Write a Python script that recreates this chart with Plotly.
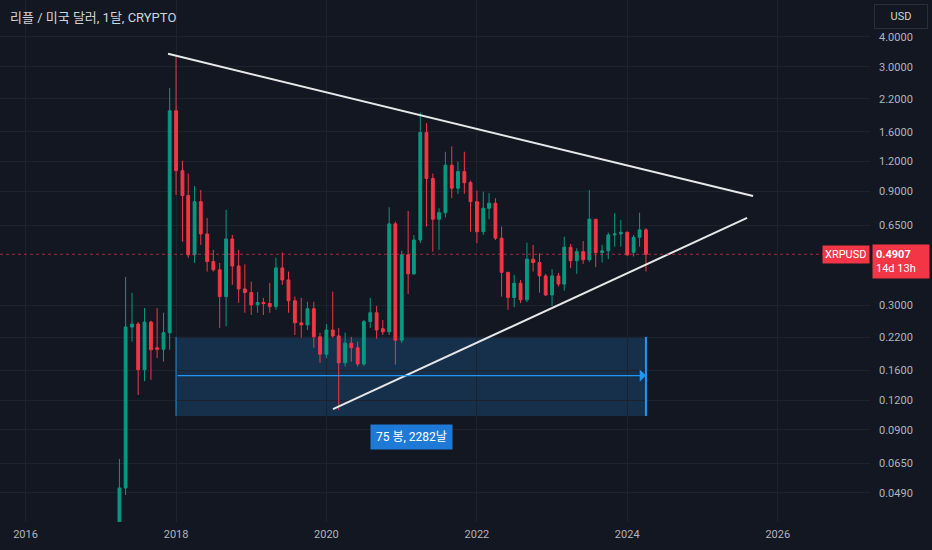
import numpy as np
import pandas as pd
import plotly.graph_objects as go

# 월봉 OHLC (2017-04 ~ 2024-04), 차트에서 눈으로 읽은 값
first_month = "2017-04-01"
open_ = [0.028, 0.0514, 0.243, 0.250, 0.161, 0.255, 0.199, 0.196, 0.230,
         1.96, 1.10, 0.865, 0.488, 0.815, 0.597, 0.457, 0.422, 0.326, 0.569, 0.438, 0.351,
         0.339, 0.301, 0.308, 0.305, 0.296, 0.430, 0.383, 0.313, 0.253, 0.248, 0.290, 0.221,
         0.187, 0.236, 0.223, 0.172, 0.208, 0.199, 0.170, 0.256, 0.279, 0.239, 0.232, 0.658,
         0.214, 0.488, 0.406, 0.563, 1.59, 1.02, 0.688, 0.733, 1.16, 0.929, 1.09, 0.98,
         0.815, 0.61, 0.765, 0.803, 0.573, 0.412, 0.323, 0.371, 0.316, 0.468, 0.453, 0.398,
         0.331, 0.398, 0.368, 0.525, 0.461, 0.503, 0.465, 0.688, 0.499, 0.507, 0.591, 0.597,
         0.607, 0.50, 0.578, 0.621]
high = [0.068, 0.394, 0.338, 0.255, 0.292, 0.258, 0.292, 0.279, 2.44,
        3.29, 1.21, 1.07, 0.949, 0.912, 0.697, 0.512, 0.451, 0.753, 0.591, 0.512, 0.445,
        0.377, 0.341, 0.322, 0.372, 0.474, 0.499, 0.415, 0.326, 0.322, 0.310, 0.310, 0.230,
        0.250, 0.342, 0.241, 0.230, 0.221, 0.211, 0.260, 0.322, 0.298, 0.260, 0.773, 0.673,
        0.508, 0.745, 0.591, 1.93, 1.74, 1.07, 0.765, 1.32, 1.39, 1.20, 1.32, 1.00,
        0.907, 0.898, 0.885, 0.843, 0.641, 0.414, 0.402, 0.383, 0.549, 0.537, 0.495, 0.406,
        0.425, 0.41, 0.582, 0.542, 0.52, 0.558, 0.912, 0.69, 0.537, 0.605, 0.729, 0.684,
        0.61, 0.591, 0.733, 0.631]
low = [0.026, 0.048, 0.211, 0.126, 0.144, 0.146, 0.180, 0.174, 0.195,
       0.87, 0.554, 0.474, 0.451, 0.537, 0.415, 0.415, 0.241, 0.245, 0.365, 0.307, 0.279,
       0.273, 0.279, 0.273, 0.279, 0.287, 0.365, 0.279, 0.225, 0.219, 0.236, 0.199, 0.172,
       0.180, 0.219, 0.109, 0.166, 0.174, 0.166, 0.167, 0.241, 0.217, 0.225, 0.225, 0.169,
       0.208, 0.334, 0.402, 0.547, 0.641, 0.503, 0.512, 0.70, 0.843, 0.879, 0.88, 0.61,
       0.546, 0.591, 0.688, 0.563, 0.326, 0.287, 0.294, 0.306, 0.309, 0.415, 0.339, 0.328,
       0.298, 0.359, 0.345, 0.429, 0.406, 0.447, 0.457, 0.433, 0.453, 0.468, 0.528, 0.528,
       0.482, 0.48, 0.528, 0.415]
close = [0.0514, 0.243, 0.250, 0.161, 0.255, 0.195, 0.196, 0.230, 1.96,
         1.10, 0.865, 0.488, 0.815, 0.597, 0.457, 0.422, 0.326, 0.569, 0.438, 0.351, 0.339,
         0.301, 0.308, 0.305, 0.296, 0.430, 0.383, 0.313, 0.253, 0.248, 0.290, 0.221, 0.187,
         0.236, 0.223, 0.172, 0.208, 0.199, 0.170, 0.256, 0.279, 0.236, 0.232, 0.658, 0.214,
         0.488, 0.406, 0.563, 1.59, 1.02, 0.688, 0.733, 1.16, 0.929, 1.09, 0.98, 0.815,
         0.61, 0.765, 0.803, 0.573, 0.412, 0.323, 0.371, 0.316, 0.468, 0.453, 0.398, 0.331,
         0.398, 0.368, 0.525, 0.461, 0.503, 0.465, 0.688, 0.499, 0.507, 0.591, 0.597, 0.607,
         0.488, 0.578, 0.621, 0.4907]

months = pd.date_range(first_month, periods=len(close), freq="MS")

# 그려 놓은 추세선, 기간 범위
upper_dates = ["2017-11-23", "2025-09-03"]
upper_prices = [3.40, 0.861]
lower_dates = ["2020-02-02", "2025-08-05"]
lower_prices = [0.110, 0.697]
range_dates = ["2018-01-01", "2024-04-01"]
range_low, range_high, range_mid = 0.103, 0.221, 0.152
range_label = "75 봉, 2282날"
label_date, label_price = "2021-02-15", 0.084
last_price = 0.4907
countdown = "14d 13h"

# 축 눈금
price_ticks = [4.0, 3.0, 2.2, 1.6, 1.2, 0.9, 0.65, 0.3, 0.22, 0.16, 0.12, 0.09, 0.065, 0.049]
year_ticks = ["2016-01-01", "2018-01-01", "2020-01-01", "2022-01-01", "2024-01-01", "2026-01-01"]
year_labels = ["2016", "2018", "2020", "2022", "2024", "2026"]

BG = "#131722"
GRID = "#1e222d"
UP = "#089981"
DOWN = "#f23645"
TXT = "#b2b5be"
BLUE = "#2196f3"
FONT = "Roboto, 'Noto Sans CJK KR', sans-serif"

fig = go.Figure()

fig.add_trace(go.Candlestick(
    x=months, open=open_, high=high, low=low, close=close,
    increasing=dict(line=dict(color=UP, width=1), fillcolor=UP),
    decreasing=dict(line=dict(color=DOWN, width=1), fillcolor=DOWN),
    hoverinfo="skip", showlegend=False,
))

for xs, ys in [(upper_dates, upper_prices), (lower_dates, lower_prices)]:
    fig.add_trace(go.Scatter(
        x=xs, y=ys, mode="lines",
        line=dict(color="#e8e8e8", width=2),
        hoverinfo="skip", showlegend=False,
    ))

# 기간 범위 박스
fig.add_shape(type="rect", xref="x", yref="y",
              x0=range_dates[0], x1=range_dates[1], y0=range_low, y1=range_high,
              fillcolor="rgba(33,150,243,0.2)", line=dict(width=0), layer="below")
fig.add_shape(type="line", xref="x", yref="y",
              x0=range_dates[0], x1=range_dates[0], y0=range_low, y1=range_high,
              line=dict(color=BLUE, width=1))
fig.add_shape(type="line", xref="x", yref="y",
              x0=range_dates[1], x1=range_dates[1], y0=range_low, y1=range_high,
              line=dict(color=BLUE, width=2))
fig.add_annotation(x=range_dates[1], y=np.log10(range_mid), ax=range_dates[0], ay=np.log10(range_mid),
                   xref="x", yref="y", axref="x", ayref="y", text="", showarrow=True,
                   arrowhead=1, arrowsize=1.6, arrowwidth=1.3, arrowcolor=BLUE, standoff=0)
fig.add_annotation(x=label_date, y=np.log10(label_price), xref="x", yref="y",
                   text=range_label, showarrow=False, bgcolor="#1e7ad6", borderpad=5,
                   font=dict(color="white", size=12, family=FONT))

# 현재가 점선과 라벨
fig.add_shape(type="line", xref="paper", yref="y", x0=0, x1=1, y0=last_price, y1=last_price,
              line=dict(color="rgba(242,54,69,0.65)", width=1, dash="dot"))
fig.add_annotation(x=1.0, y=np.log10(last_price), xref="paper", yref="y",
                   xanchor="right", yanchor="middle", text="XRPUSD", showarrow=False,
                   bgcolor=DOWN, borderpad=2, font=dict(color="white", size=11, family=FONT))
fig.add_annotation(x=1.0 + 2 / 870, y=np.log10(last_price), xref="paper", yref="y",
                   xanchor="left", yanchor="middle", yshift=-7, align="left", width=50,
                   text=f"<b>{last_price:.4f}</b><br>{countdown}", showarrow=False,
                   bgcolor=DOWN, borderpad=3, font=dict(color="white", size=11, family=FONT))

# 제목, 통화 버튼
fig.add_annotation(x=8 / 870, y=1 - 18 / 522, xref="paper", yref="paper",
                   xanchor="left", yanchor="middle", showarrow=False,
                   text="리플 / 미국 달러, 1달, CRYPTO",
                   font=dict(color="#d1d4dc", size=13, family=FONT))
fig.add_annotation(x=901 / 870, y=1 - 16 / 522, xref="paper", yref="paper",
                   xanchor="center", yanchor="middle", showarrow=False, text="USD",
                   width=42, borderpad=5, bordercolor="#2a2e39", borderwidth=1, bgcolor=BG,
                   font=dict(color="#d1d4dc", size=11, family=FONT))

fig.update_layout(
    width=932, height=550,
    margin=dict(l=0, r=62, t=0, b=28),
    plot_bgcolor=BG, paper_bgcolor=BG,
    showlegend=False, hovermode=False,
    font=dict(family=FONT, color=TXT, size=11),
    xaxis=dict(
        type="date", range=["2015-08-30", "2027-03-25"],
        tickvals=year_ticks, ticktext=year_labels,
        showgrid=True, gridcolor=GRID, zeroline=False, showline=False,
        ticks="", ticklabelstandoff=4,
        rangeslider=dict(visible=False),
        tickfont=dict(color=TXT, size=11),
    ),
    yaxis=dict(
        type="log", range=[-1.432, 0.757], side="right",
        tickvals=price_ticks, ticktext=[f"{v:.4f}" for v in price_ticks],
        showgrid=True, gridcolor=GRID, zeroline=False, showline=False,
        ticks="", ticklabelstandoff=8,
        tickfont=dict(color=TXT, size=11),
    ),
)

# 브라우저 기본 여백 제거, 툴바 숨김
fig.write_html("out.html", config={"displayModeBar": False},
               post_script="document.body.style.margin='0';"
                           "document.body.style.background='#131722';")
